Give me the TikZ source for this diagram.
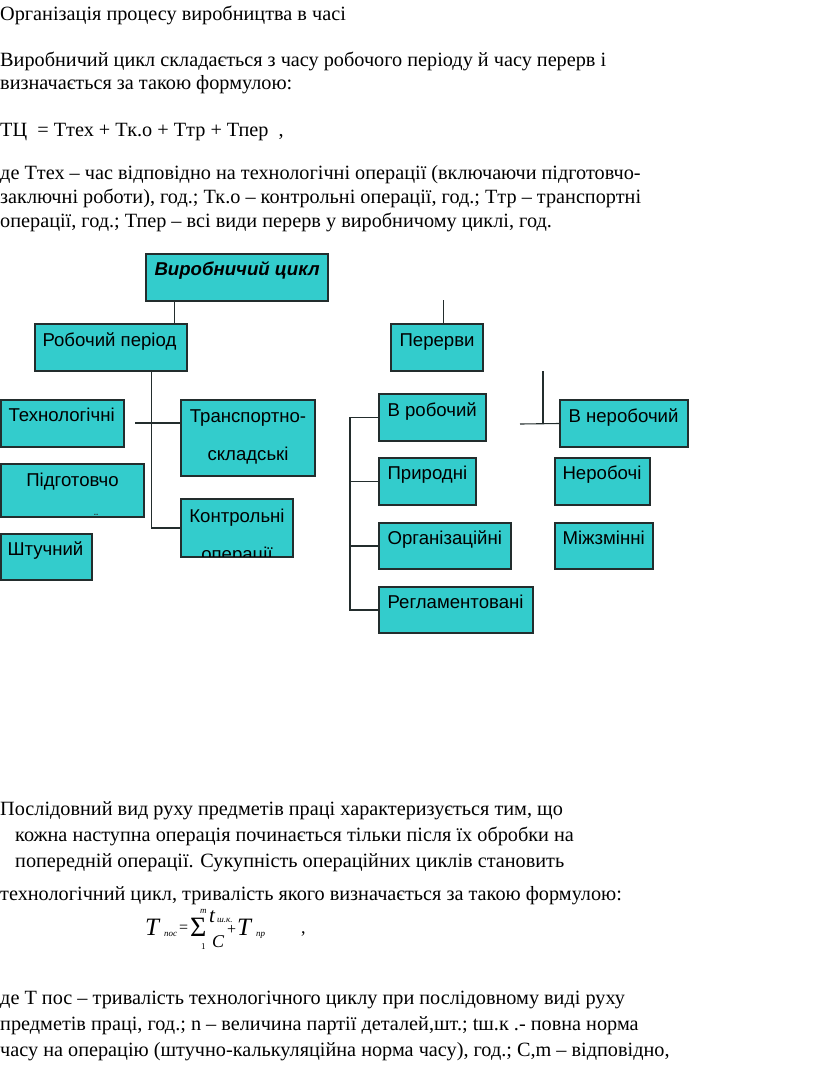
\documentclass[tikz,border=0pt]{standalone}
\usepackage{fontspec}
\setmainfont{Liberation Serif}
\setsansfont{Liberation Sans}
\usetikzlibrary{fit,calc}
\definecolor{boxfill}{RGB}{51,204,204}
\definecolor{boxline}{RGB}{35,45,45}
\begin{document}
\begin{tikzpicture}[x=1pt,y=-1pt,
  box/.style={draw=boxline, fill=boxfill, line width=1.3pt, inner sep=0pt, rectangle},
  btxt/.style={anchor=base west, inner sep=0pt, font=\sffamily\fontsize{18.6}{22}\selectfont},
  ctxt/.style={anchor=base, inner sep=0pt, font=\sffamily\fontsize{18.6}{22}\selectfont},
  body/.style={anchor=base west, inner sep=0pt, font=\fontsize{20.25}{24}\selectfont},
  fm/.style={anchor=base west, inner sep=0pt, text depth=0pt},
  conn/.style={draw=boxline, line width=1.1pt}]
\useasboundingbox (0,0) rectangle (816,1079);

% ---------- upper text ----------
\node[body] (t1) at (0,20) {Організація процесу виробництва в часі};
\node[body] (t2) at (0,66) {Виробничий цикл складається з часу робочого періоду й часу перерв і};
\node[body] (t3) at (0,89) {визначається за такою формулою:};
\node[body] (t4) at (0,136) {ТЦ\ \ = Ттех + Тк.о + Ттр + Тпер\ \ ,};
\node[body] (t5) at (0,179) {де Ттех – час відповідно на технологічні операції (включаючи підготовчо-};
\node[body] (t6) at (0,203) {заключні роботи), год.; Тк.о – контрольні операції, год.; Ттр – транспортні};
\node[body] (t7) at (0,227) {операції, год.; Тпер – всі види перерв у виробничому циклі, год.};

% ---------- boxes ----------
\node[box, fit={(146,254) (328,301)}] (vc) {};
\node[box, fit={(35,324) (187,371)}] (rp) {};
\node[box, fit={(1,400) (124,447)}] (tech) {};
\node[box, fit={(181,400) (315,476)}] (trans) {};
\node[box, fit={(1,464) (144,517)}] (pidg) {};
\node[box, fit={(181,499) (293,557)}] (kontr) {};
\node[box, fit={(1,534) (92,580)}] (shtuch) {};
\node[box, fit={(391,324) (483,371)}] (perv) {};
\node[box, fit={(379,394) (486,441)}] (vrob) {};
\node[box, fit={(379,458) (476,505)}] (pryr) {};
\node[box, fit={(379,523) (511,569)}] (org) {};
\node[box, fit={(379,587) (533,633)}] (regl) {};
\node[box, fit={(560,400) (688,447)}] (vner) {};
\node[box, fit={(555,458) (650,505)}] (nerob) {};
\node[box, fit={(555,523) (653,569)}] (mizh) {};

% ---------- box texts ----------
\node[btxt] (vcT) at ($(vc.north west)+(9,22)$) {\bfseries\itshape Виробничий цикл};
\node[btxt] (rpT) at ($(rp.north west)+(8,23)$) {Робочий період};
\node[btxt] (techT) at ($(tech.north west)+(8,22)$) {Технологічні};
\node[ctxt] (transT1) at ($(trans.north)+(0,23)$) {Транспортно-};
\node[ctxt] (transT2) at ($(trans.north)+(0,61)$) {складські};
\node[ctxt] (pidgT) at ($(pidg.north)+(0,23)$) {Підготовчо};
\node[anchor=base, inner sep=0pt, font=\sffamily\bfseries\fontsize{8}{8}\selectfont, text=boxline] (pidgD) at (96,515) {..};
\begin{scope}
  \clip ($(kontr.north west)+(1,1)$) rectangle ($(kontr.south east)+(-1,-1)$);
  \node[ctxt] (kontrT1) at ($(kontr.north)+(0,24)$) {Контрольні};
  \node[ctxt] (kontrT2) at ($(kontr.north)+(0,62)$) {операції};
\end{scope}
\node[btxt] (shtuchT) at ($(shtuch.north west)+(7,22)$) {Штучний};
\node[btxt] (pervT) at ($(perv.north west)+(9,23)$) {Перерви};
\node[btxt] (vrobT) at ($(vrob.north west)+(9,23)$) {В робочий};
\node[btxt] (pryrT) at ($(pryr.north west)+(9,22)$) {Природні};
\node[btxt] (orgT) at ($(org.north west)+(9,22)$) {Організаційні};
\node[btxt] (reglT) at ($(regl.north west)+(9,22)$) {Регламентовані};
\node[btxt] (vnerT) at ($(vner.north west)+(9,23)$) {В неробочий};
\node[btxt] (nerobT) at ($(nerob.north west)+(8,22)$) {Неробочі};
\node[btxt] (mizhT) at ($(mizh.north west)+(8,22)$) {Міжзмінні};

% ---------- connectors ----------
\draw[conn] ($(vc.south west)+(29,0)$) -- ($(rp.north west)+(140,0)$);
\coordinate (pervTop) at ($(perv.north west)+(53,-23)$);
\draw[conn] ($(perv.north west)+(53,0)$) -- (pervTop);
\coordinate (rpJ) at ($(rp.south west)+(117,0)$);
\draw[conn] (rpJ) |- (kontr.west);
\coordinate (techEnd) at (135,423);
\draw[conn] (techEnd) -- (techEnd -| trans.west);
\coordinate (brkTop) at (350,417);
\draw[conn] (vrob.west) -| (brkTop |- regl.west) -- (regl.west);
\draw[conn] (pryr.west) -- (pryr.west -| brkTop);
\draw[conn] (org.west) -- (org.west -| brkTop);
\coordinate (vnerTop) at (543,371);
\coordinate (vnerEnd) at (520,424);
\draw[conn] (vnerTop) -- (vnerTop |- vner.west);
\draw[conn] (vnerEnd) -- (vner.west);

% ---------- lower text ----------
\node[body] (b1) at (0,815) {Послідовний вид руху предметів праці характеризується тим, що};
\node[body] (b2) at (15,841) {кожна наступна операція починається тільки після їх обробки на};
\node[body] (b3) at (15,867) {попередній операції. Сукупність операційних циклів становить};
\node[body] (b4) at (0,900) {технологічний цикл, тривалість якого визначається за такою формулою:};

% formula
\node[fm, text height=16pt, font=\itshape\fontsize{25}{25}\selectfont] (fT1) at (145,935) {T};
\node[fm, text height=5pt, font=\itshape\fontsize{9}{9}\selectfont] (fS1) at (164,936) {пос};
\node[fm, text height=6pt, font=\fontsize{16}{16}\selectfont] (fEq) at (179,932) {=};
\node[fm, text height=18pt, font=\fontsize{28}{28}\selectfont] (fSig) at (190,936) {Σ};
\node[fm, text height=5pt, font=\itshape\fontsize{9}{9}\selectfont] (fm) at (200,913) {m};
\node[fm, text height=6pt, font=\fontsize{9}{9}\selectfont] (f1) at (201,949) {1};
\node[fm, text height=12pt, font=\itshape\fontsize{21}{21}\selectfont] (ft) at (209,922) {t};
\node[fm, text height=5pt, font=\itshape\fontsize{9}{9}\selectfont] (fS2) at (217,922) {ш.к.};
\node[fm, text height=12pt, font=\itshape\fontsize{18}{18}\selectfont] (fC) at (212,947) {C};
\node[fm, text height=8pt, font=\fontsize{16}{16}\selectfont] (fPl) at (227,934) {+};
\node[fm, text height=16pt, font=\itshape\fontsize{25}{25}\selectfont] (fT2) at (237,935) {T};
\node[fm, text height=5pt, font=\itshape\fontsize{9}{9}\selectfont] (fS3) at (256,936) {пр};
\node[fm, font=\fontsize{18}{18}\selectfont] (fCm) at (301,933) {,};

\node[body] (b5) at (0,1004) {де Т пос – тривалість технологічного циклу при послідовному виді руху};
\node[body] (b6) at (0,1030) {предметів праці, год.; n – величина партії деталей,шт.; tш.к .- повна норма};
\node[body] (b7) at (0,1056) {часу на операцію (штучно-калькуляційна норма часу), год.; С,m – відповідно,};
\end{tikzpicture}
\end{document}
